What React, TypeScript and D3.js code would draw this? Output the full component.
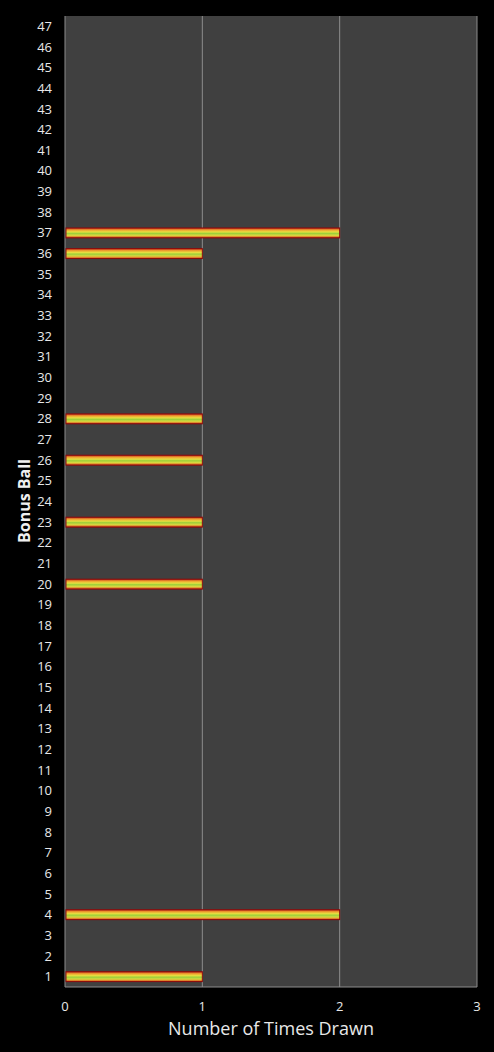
import React, { useEffect, useRef } from "react";
import * as d3 from "d3";

const balls: number[] = Array.from({ length: 47 }, (_, i) => i + 1);
const drawnBalls: number[] = [1, 4, 20, 23, 26, 28, 36, 37];
const drawnCounts: number[] = [1, 2, 1, 1, 1, 1, 1, 2];
const xTicks: number[] = [0, 1, 2, 3];

const W = 494;
const H = 1052;
const M = { left: 65, right: 477, top: 16, bottom: 987 };

export default function App() {
  const ref = useRef<SVGSVGElement>(null);
  useEffect(() => {
    const svg = d3.select(ref.current);
    svg.selectAll("*").remove();
    const font = "'Open Sans', 'Noto Sans', sans-serif";

    const x = d3.scaleLinear().domain([0, 3]).range([M.left, M.right]);
    const y = d3
      .scaleBand<number>()
      .domain(balls.slice().reverse())
      .range([M.top, M.bottom])
      .paddingInner(0.52)
      .paddingOuter(0.26);

    const defs = svg.append("defs");
    const g = defs
      .append("linearGradient")
      .attr("id", "barGrad")
      .attr("x1", 0)
      .attr("y1", 0)
      .attr("x2", 0)
      .attr("y2", 1);
    const stops: [number, string][] = [
      [0, "#c0281a"],
      [0.2, "#f0a030"],
      [0.4, "#e6e040"],
      [0.55, "#9ccf3a"],
      [0.75, "#d8d840"],
      [0.9, "#e07a28"],
      [1, "#b81c14"],
    ];
    stops.forEach(([o, c]) => g.append("stop").attr("offset", o).attr("stop-color", c));

    svg.append("rect").attr("width", W).attr("height", H).attr("fill", "#000");
    svg
      .append("rect")
      .attr("x", M.left)
      .attr("y", M.top)
      .attr("width", M.right - M.left)
      .attr("height", M.bottom - M.top)
      .attr("fill", "#404040");

    // gridlines
    svg
      .append("g")
      .selectAll("line")
      .data(xTicks.slice(1))
      .join("line")
      .attr("x1", (d) => x(d))
      .attr("x2", (d) => x(d))
      .attr("y1", M.top)
      .attr("y2", M.bottom)
      .attr("stroke", "#8c8c8c")
      .attr("stroke-width", 1);

    // axes lines
    svg
      .append("line")
      .attr("x1", M.left)
      .attr("x2", M.left)
      .attr("y1", M.top)
      .attr("y2", M.bottom)
      .attr("stroke", "#8c8c8c");
    svg
      .append("line")
      .attr("x1", M.left)
      .attr("x2", M.right)
      .attr("y1", M.bottom)
      .attr("y2", M.bottom)
      .attr("stroke", "#8c8c8c");

    // bars
    const data = drawnBalls.map((b, i) => ({ b, v: drawnCounts[i] }));
    svg
      .append("g")
      .selectAll("rect")
      .data(data)
      .join("rect")
      .attr("x", x(0) + 1)
      .attr("y", (d) => y(d.b)!)
      .attr("width", (d) => x(d.v) - x(0) - 1)
      .attr("height", y.bandwidth())
      .attr("fill", "url(#barGrad)")
      .attr("stroke", "#8a0a0a")
      .attr("stroke-width", 1);

    // y tick labels
    svg
      .append("g")
      .selectAll("text")
      .data(balls)
      .join("text")
      .attr("x", 52)
      .attr("y", (d) => y(d)! + y.bandwidth() / 2)
      .attr("dy", "0.35em")
      .attr("text-anchor", "end")
      .attr("fill", "#e8e8e8")
      .attr("font-family", font)
      .attr("font-size", 13)
      .text((d) => String(d));

    // x tick labels
    svg
      .append("g")
      .selectAll("text")
      .data(xTicks)
      .join("text")
      .attr("x", (d) => x(d))
      .attr("y", 1006)
      .attr("dy", "0.35em")
      .attr("text-anchor", "middle")
      .attr("fill", "#e8e8e8")
      .attr("font-family", font)
      .attr("font-size", 13)
      .text((d) => String(d));

    svg
      .append("text")
      .attr("x", 271)
      .attr("y", 1029)
      .attr("dy", "0.35em")
      .attr("text-anchor", "middle")
      .attr("fill", "#e8e8e8")
      .attr("font-family", font)
      .attr("font-size", 18)
      .text("Number of Times Drawn");

    svg
      .append("text")
      .attr("transform", "translate(24,501) rotate(-90)")
      .attr("dy", "0.35em")
      .attr("text-anchor", "middle")
      .attr("fill", "#f0f0f0")
      .attr("font-family", font)
      .attr("font-size", 16)
      .attr("font-weight", "bold")
      .text("Bonus Ball");
  }, []);

  return (
    <svg
      ref={ref}
      width={W}
      height={H}
      style={{ position: "absolute", top: 0, left: 0, display: "block" }}
    />
  );
}
